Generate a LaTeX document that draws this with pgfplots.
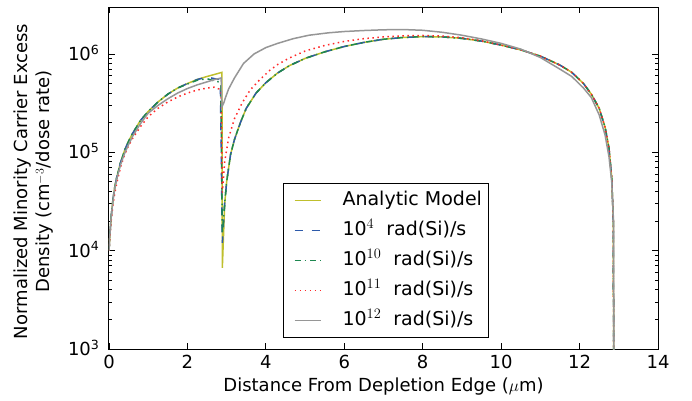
\documentclass[border=0pt]{standalone}
\usepackage{pgfplots}
\pgfplotsset{compat=1.18}
\usepackage{fontspec}
\setmainfont{DejaVu Sans}
\definecolor{cyel}{RGB}{191,191,45}
\definecolor{cblu}{RGB}{45,90,170}
\definecolor{cgrn}{RGB}{30,135,80}
\definecolor{cred}{RGB}{255,40,40}
\definecolor{cgry}{RGB}{150,150,150}
\begin{document}
\begin{tikzpicture}
\path[use as bounding box] (-109pt,-51pt) rectangle (583pt,349pt);
\begin{axis}[
  at={(0pt,0pt)}, anchor=south west,
  width=549pt, height=342pt, scale only axis,
  ymode=log, xmin=0, xmax=14, ymin=1e3, ymax=3e6,
  xtick={0,2,...,14},
  ytick={1e3,1e4,1e5,1e6},
  yticklabels={10\textsuperscript{3},10\textsuperscript{4},10\textsuperscript{5},10\textsuperscript{6}},
  tick label style={font=\fontsize{18}{21}\selectfont},
  xticklabel style={/pgf/number format/assume math mode=true, anchor=base, yshift=-19pt},
  yticklabel style={anchor=base east, yshift=-6.5pt, xshift=-6pt},
  label style={font=\fontsize{18}{22}\selectfont},
  xlabel={Distance From Depletion Edge ($\mu$m)},
  xlabel style={at={(axis description cs:0.5,0)}, anchor=base, yshift=-42pt},
  ylabel={Normalized Minority Carrier Excess\\Density (cm$^{-3}$/dose rate)},
  ylabel style={at={(axis description cs:0,0.49)}, anchor=center, yshift=75pt, align=center},
  major tick length=6pt, minor tick length=3.5pt,
  every tick/.style={black, line width=0.8pt},
  axis line style={line width=1pt},
  legend cell align=left,
  legend style={at={(0.317,0.032)}, anchor=south west, draw=black, line width=1pt,
    font=\fontsize{19}{22}\selectfont,
    nodes={inner ysep=6pt, text height=13.5pt, text depth=4.5pt, inner xsep=3pt},
    row sep=0pt},
  legend image code/.code={\path[draw=none] (0pt,0pt) -- (53pt,0pt); \draw[#1, line width=1.5pt] (8pt,0pt) -- (34pt,0pt);},
  every axis plot/.append style={line width=1.5pt},
]
% Analytic model
\addplot[cyel, solid] table {
0.0 1.0e4
0.03 1.6e4
0.06 2.3e4
0.1 3.3e4
0.15 4.5e4
0.2 5.6e4
0.3 8.0e4
0.4 1.05e5
0.5 1.3e5
0.6 1.55e5
0.8 2.1e5
1.0 2.6e5
1.25 3.25e5
1.5 3.9e5
1.75 4.5e5
2.0 5.0e5
2.25 5.5e5
2.5 5.9e5
2.7 6.2e5
2.88 6.5e5
2.89 6.7e3
2.95 3.0e4
3.0 5.0e4
3.1 9.5e4
3.2 1.35e5
3.35 2.0e5
3.5 2.8e5
3.75 4.0e5
4.0 5.1e5
4.3 6.4e5
4.6 7.6e5
5.0 9.0e5
5.5 1.05e6
6.0 1.19e6
6.5 1.31e6
7.0 1.41e6
7.5 1.47e6
8.0 1.50e6
8.5 1.49e6
9.0 1.44e6
9.5 1.35e6
10.0 1.23e6
10.5 1.10e6
11.0 9.5e5
11.5 7.7e5
11.8 6.5e5
12.1 5.0e5
12.3 3.9e5
12.5 2.8e5
12.65 1.8e5
12.75 1.1e5
12.82 5.5e4
12.86 2.0e4
12.875 1e2
};
\addlegendentry{Analytic Model}
% 1e4
\addplot[cblu, dash pattern=on 8pt off 9pt] table {
0.0 1.0e4
0.03 1.6e4
0.06 2.3e4
0.1 3.3e4
0.15 4.5e4
0.2 5.6e4
0.3 8.0e4
0.4 1.05e5
0.5 1.3e5
0.6 1.55e5
0.8 2.1e5
1.0 2.6e5
1.25 3.25e5
1.5 3.9e5
1.75 4.5e5
2.0 5.0e5
2.25 5.5e5
2.5 5.8e5
2.7 5.6e5
2.8 5.5e5
2.84 5.0e5
2.89 1.2e4
2.95 3.0e4
3.0 5.0e4
3.1 9.5e4
3.2 1.35e5
3.35 2.0e5
3.5 2.8e5
3.75 4.0e5
4.0 5.1e5
4.3 6.4e5
4.6 7.6e5
5.0 9.0e5
5.5 1.05e6
6.0 1.19e6
6.5 1.31e6
7.0 1.41e6
7.5 1.47e6
8.0 1.50e6
8.5 1.49e6
9.0 1.44e6
9.5 1.35e6
10.0 1.23e6
10.5 1.10e6
11.0 9.5e5
11.5 7.7e5
11.8 6.5e5
12.1 5.0e5
12.3 3.9e5
12.5 2.8e5
12.65 1.8e5
12.75 1.1e5
12.82 5.5e4
12.86 2.0e4
12.875 1e2
};
\addlegendentry{10$^{4}$\ \ rad(Si)/s}
% 1e10
\addplot[cgrn, dash pattern=on 6pt off 4pt on 1.5pt off 4pt] table {
0.0 1.0e4
0.03 1.6e4
0.06 2.3e4
0.1 3.3e4
0.15 4.5e4
0.2 5.6e4
0.3 8.0e4
0.4 1.05e5
0.5 1.3e5
0.6 1.55e5
0.8 2.1e5
1.0 2.6e5
1.25 3.25e5
1.5 3.9e5
1.75 4.5e5
2.0 4.95e5
2.25 5.4e5
2.5 5.6e5
2.7 5.3e5
2.8 5.2e5
2.85 4.8e5
2.89 1.5e4
2.95 3.0e4
3.0 5.0e4
3.1 9.5e4
3.2 1.35e5
3.35 2.0e5
3.5 2.8e5
3.75 4.0e5
4.0 5.1e5
4.3 6.4e5
4.6 7.6e5
5.0 9.0e5
5.5 1.05e6
6.0 1.19e6
6.5 1.31e6
7.0 1.41e6
7.5 1.47e6
8.0 1.50e6
8.5 1.49e6
9.0 1.44e6
9.5 1.35e6
10.0 1.23e6
10.5 1.10e6
11.0 9.5e5
11.5 7.7e5
11.8 6.5e5
12.1 5.0e5
12.3 3.9e5
12.5 2.8e5
12.65 1.8e5
12.75 1.1e5
12.82 5.5e4
12.86 2.0e4
12.875 1e2
};
\addlegendentry{10$^{10}$\ \ rad(Si)/s}
% 1e11
\addplot[cred, dash pattern=on 1.5pt off 3.5pt] table {
0.0 1.0e4
0.03 1.5e4
0.06 2.1e4
0.1 2.9e4
0.15 3.9e4
0.2 4.9e4
0.3 7.2e4
0.4 9.5e4
0.5 1.17e5
0.6 1.38e5
0.8 1.82e5
1.0 2.3e5
1.25 2.8e5
1.5 3.25e5
1.75 3.65e5
2.0 4.0e5
2.25 4.3e5
2.5 4.5e5
2.7 4.6e5
2.8 4.4e5
2.86 4.0e5
2.89 3.9e4
2.95 8.0e4
3.05 1.4e5
3.2 2.2e5
3.4 3.2e5
3.6 4.3e5
3.85 5.5e5
4.1 6.8e5
4.3 7.8e5
4.6 9.1e5
5.0 1.07e6
5.5 1.22e6
6.0 1.34e6
6.5 1.43e6
7.0 1.49e6
7.5 1.53e6
8.0 1.54e6
8.5 1.52e6
9.0 1.46e6
9.5 1.36e6
10.0 1.23e6
10.5 1.10e6
11.0 9.5e5
11.5 7.7e5
11.8 6.5e5
12.1 5.0e5
12.3 3.9e5
12.5 2.8e5
12.65 1.8e5
12.75 1.1e5
12.82 5.5e4
12.86 2.0e4
12.875 1e2
};
\addlegendentry{10$^{11}$\ \ rad(Si)/s}
% 1e12
\addplot[cgry, solid] table {
0.0 1.0e4
0.03 1.6e4
0.06 2.3e4
0.1 3.2e4
0.15 4.4e4
0.2 5.4e4
0.3 7.6e4
0.4 9.8e4
0.5 1.2e5
0.6 1.45e5
0.8 1.95e5
1.0 2.5e5
1.25 3.0e5
1.5 3.5e5
1.75 4.0e5
2.0 4.45e5
2.25 4.85e5
2.5 5.2e5
2.7 5.5e5
2.86 5.7e5
2.88 2.9e5
2.93 3.2e5
2.97 3.6e5
3.05 4.4e5
3.2 5.7e5
3.43 8.0e5
3.7 1.0e6
4.0 1.16e6
4.3 1.28e6
4.7 1.43e6
5.1 1.55e6
5.6 1.64e6
6.0 1.69e6
6.5 1.73e6
7.0 1.76e6
7.5 1.77e6
8.0 1.74e6
8.5 1.66e6
9.0 1.55e6
9.5 1.42e6
10.0 1.28e6
10.5 1.12e6
11.0 9.2e5
11.5 7.0e5
11.8 5.9e5
12.1 4.5e5
12.3 3.6e5
12.5 2.4e5
12.65 1.5e5
12.75 9.0e4
12.82 5.0e4
12.865 2.0e4
12.885 1e2
};
\addlegendentry{10$^{12}$\ \ rad(Si)/s}
\end{axis}
\end{tikzpicture}
\end{document}
